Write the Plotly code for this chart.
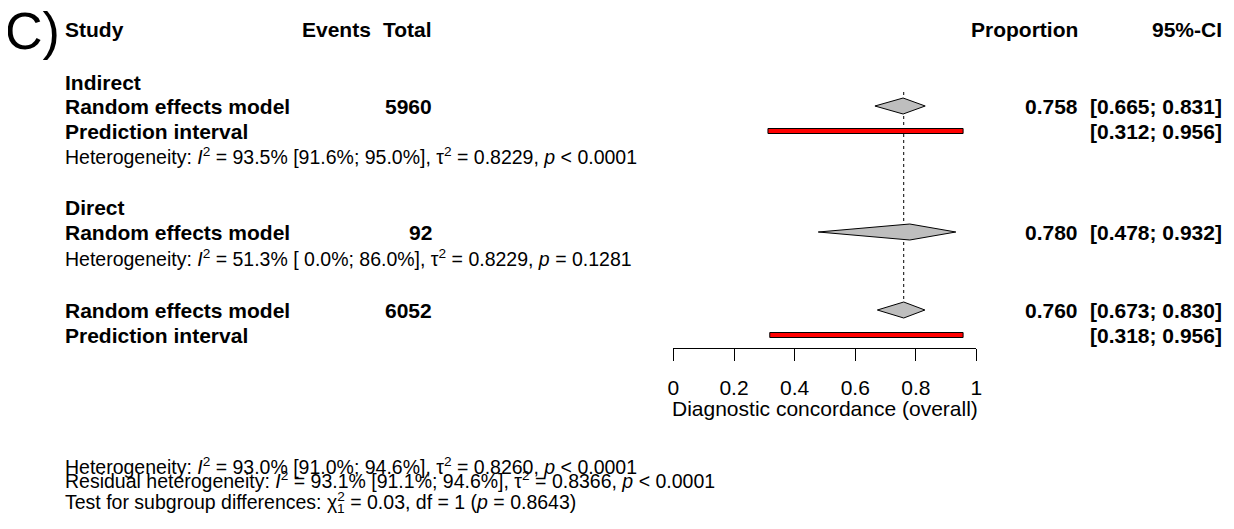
import plotly.graph_objects as go

# ---------------- data ----------------
panel_label = "C)"
col_headers = ["Study", "Events", "Total", "Proportion", "95%-CI"]
subgroups = ["Indirect", "Direct"]
model_label = "Random effects model"
pi_label = "Prediction interval"

totals = [5960, 92, 6052]                 # indirect, direct, overall
estimates = [0.758, 0.780, 0.760]
ci_lower = [0.665, 0.478, 0.673]
ci_upper = [0.831, 0.932, 0.830]
pi_lower = [0.312, None, 0.318]
pi_upper = [0.956, None, 0.956]

het_I2 = [93.5, 51.3]
het_I2_lo = [91.6, 0.0]
het_I2_hi = [95.0, 86.0]
het_tau2 = [0.8229, 0.8229]
het_p = ["&lt; 0.0001", "= 0.1281"]

overall_I2 = [93.0, 91.0, 94.6]
overall_tau2 = 0.8260
resid_I2 = [93.1, 91.1, 94.6]
resid_tau2 = 0.8366
subgroup_chi2 = 0.03
subgroup_df = 1
subgroup_p = 0.8643

axis_ticks = [0, 0.2, 0.4, 0.6, 0.8, 1]
axis_title = "Diagnostic concordance (overall)"

# ---------------- layout constants (page pixels) ----------------
W, H = 1234, 529
M = 8                          # default body margin of the html page
FW, FH = W - 2 * M, H - 2 * M  # figure size so that the page fits exactly
AX0, AX1 = 674, 980            # page x of 0 and 1 on the forest axis
AXIS_Y = 348
FONT = "Liberation Sans, Arial, Helvetica, sans-serif"
FSB = 21     # bold table text
FSN = 19.5   # plain statistics text

rows = {
    "header": 29,
    "sub0": 82, "rem0": 106, "pi0": 131, "het0": 156,
    "sub1": 207, "rem1": 232, "het1": 258,
    "rem2": 310, "pi2": 335,
    "title": 408,
    "b_het": 466, "b_res": 480, "b_test": 501,
}

X_STUDY = 57
X_EVENTS_R = 371
X_TOTAL_R = 432
X_PROP_R = 1085
X_CI_R = 1230

fig = go.Figure()

# reference (dotted) line at overall estimate
fig.add_trace(go.Scatter(x=[estimates[2], estimates[2]], y=[92, 302], mode="lines",
                         line=dict(color="black", width=1, dash="dot"),
                         hoverinfo="skip", showlegend=False))

HALF = 8
def diamond(i, ry):
    fig.add_trace(go.Scatter(
        x=[ci_lower[i], estimates[i], ci_upper[i], estimates[i], ci_lower[i]],
        y=[ry, ry - HALF, ry, ry + HALF, ry],
        mode="lines", fill="toself", fillcolor="#bebebe",
        line=dict(color="black", width=1), hoverinfo="skip", showlegend=False))

def pibar(i, ry):
    h = 2.5
    fig.add_trace(go.Scatter(
        x=[pi_lower[i], pi_upper[i], pi_upper[i], pi_lower[i], pi_lower[i]],
        y=[ry - h, ry - h, ry + h, ry + h, ry - h],
        mode="lines", fill="toself", fillcolor="#ff0000",
        line=dict(color="black", width=1), hoverinfo="skip", showlegend=False))

diamond(0, rows["rem0"])
pibar(0, rows["pi0"])
diamond(1, rows["rem1"])
diamond(2, rows["rem2"])
pibar(2, rows["pi2"])

ann = []
def txt(xpx, ypx, s, anchor="left", size=FSB, bold=False):
    if bold:
        s = "<b>" + s + "</b>"
    ann.append(dict(x=(xpx - M) / FW, y=ypx, xref="paper", yref="y", text=s,
                    showarrow=False, xanchor=anchor, yanchor="middle",
                    font=dict(family=FONT, size=size, color="black")))

# panel label and headers
txt(56, 31, panel_label, anchor="right", size=52)
txt(X_STUDY, rows["header"], col_headers[0], bold=True)
txt(X_EVENTS_R, rows["header"], col_headers[1], anchor="right", bold=True)
txt(X_TOTAL_R, rows["header"], col_headers[2], anchor="right", bold=True)
txt(X_PROP_R, rows["header"], col_headers[3], anchor="right", bold=True)
txt(X_CI_R, rows["header"], col_headers[4], anchor="right", bold=True)

def ci_str(lo, hi):
    return "[%.3f; %.3f]" % (lo, hi)

def het_str(I2, lo, hi, tau2, p):
    return ("Heterogeneity: <i>I</i><sup>2</sup> = %.1f%% [%4.1f%%; %.1f%%], "
            "τ<sup>2</sup> = %.4f, <i>p</i> %s" % (I2, lo, hi, tau2, p))

# subgroup blocks
for g, (sr, rr, pr, hr) in enumerate([("sub0", "rem0", "pi0", "het0"),
                                      ("sub1", "rem1", None, "het1")]):
    txt(X_STUDY, rows[sr], subgroups[g], bold=True)
    txt(X_STUDY, rows[rr], model_label, bold=True)
    txt(X_TOTAL_R, rows[rr], str(totals[g]), anchor="right", bold=True)
    txt(X_PROP_R, rows[rr], "%.3f" % estimates[g], anchor="right", bold=True)
    txt(X_CI_R, rows[rr], ci_str(ci_lower[g], ci_upper[g]), anchor="right", bold=True)
    if pr is not None:
        txt(X_STUDY, rows[pr], pi_label, bold=True)
        txt(X_CI_R, rows[pr], ci_str(pi_lower[g], pi_upper[g]), anchor="right", bold=True)
    txt(X_STUDY, rows[hr], het_str(het_I2[g], het_I2_lo[g], het_I2_hi[g], het_tau2[g], het_p[g]),
        size=FSN)

# overall
txt(X_STUDY, rows["rem2"], model_label, bold=True)
txt(X_TOTAL_R, rows["rem2"], str(totals[2]), anchor="right", bold=True)
txt(X_PROP_R, rows["rem2"], "%.3f" % estimates[2], anchor="right", bold=True)
txt(X_CI_R, rows["rem2"], ci_str(ci_lower[2], ci_upper[2]), anchor="right", bold=True)
txt(X_STUDY, rows["pi2"], pi_label, bold=True)
txt(X_CI_R, rows["pi2"], ci_str(pi_lower[2], pi_upper[2]), anchor="right", bold=True)

# axis title, centred on the forest axis
ann.append(dict(x=0.5, y=rows["title"], xref="x", yref="y", text=axis_title,
                showarrow=False, xanchor="center", yanchor="middle",
                font=dict(family=FONT, size=FSB, color="black")))

# bottom statistics
txt(X_STUDY, rows["b_het"],
    "Heterogeneity: <i>I</i><sup>2</sup> = %.1f%% [%.1f%%; %.1f%%], τ<sup>2</sup> = %.4f, <i>p</i> &lt; 0.0001"
    % (overall_I2[0], overall_I2[1], overall_I2[2], overall_tau2), size=FSN)
txt(X_STUDY, rows["b_res"],
    "Residual heterogeneity: <i>I</i><sup>2</sup> = %.1f%% [%.1f%%; %.1f%%], τ<sup>2</sup> = %.4f, <i>p</i> &lt; 0.0001"
    % (resid_I2[0], resid_I2[1], resid_I2[2], resid_tau2), size=FSN)
test_prefix = "Test for subgroup differences: χ"
txt(X_STUDY, rows["b_test"],
    test_prefix + "<sup>2</sup> = %.2f, df = %d (<i>p</i> = %.4f)"
    % (subgroup_chi2, subgroup_df, subgroup_p), size=FSN)
# subscript of chi-square placed beneath its superscript
txt(X_STUDY + 275, rows["b_test"] + 7, str(subgroup_df), size=FSN * 0.7)

fig.update_layout(
    width=FW, height=FH, autosize=False,
    margin=dict(l=0, r=0, t=0, b=0),
    paper_bgcolor="white", plot_bgcolor="white",
    annotations=ann,
    font=dict(family=FONT, size=FSB, color="black"),
    xaxis=dict(domain=[(AX0 - M) / FW, (AX1 - M) / FW], range=[0, 1], anchor="free",
               position=1 - (AXIS_Y - M) / FH,
               tickvals=axis_ticks, ticktext=[("%g" % t) for t in axis_ticks],
               ticks="outside", ticklen=12, tickwidth=1, tickcolor="black",
               ticklabelstandoff=9,
               showline=True, linecolor="black", linewidth=1,
               showgrid=False, zeroline=False,
               tickfont=dict(family=FONT, size=FSB, color="black"),
               fixedrange=True),
    yaxis=dict(domain=[0, 1], range=[M + FH, M], visible=False, fixedrange=True),
    showlegend=False,
)

fig.write_html("out.html")
